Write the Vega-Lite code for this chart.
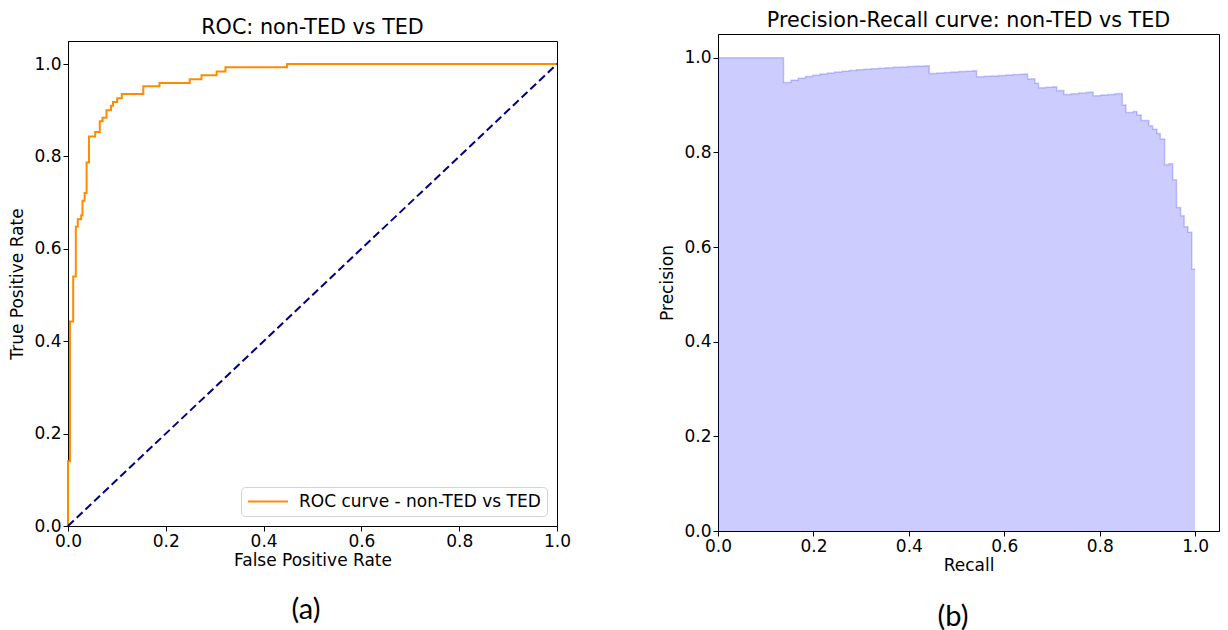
{
  "$schema": "https://vega.github.io/schema/vega-lite/v6.json",
  "background": "white",
  "padding": {"left": 8, "top": 9, "right": 4, "bottom": 0},
  "datasets": {
    "roc": [
      {"i": 0, "fpr": 0, "tpr": 0, "series": "ROC curve - non-TED vs TED"},
      {"i": 1, "fpr": 0, "tpr": 0.14, "series": "ROC curve - non-TED vs TED"},
      {"i": 2, "fpr": 0.004, "tpr": 0.14, "series": "ROC curve - non-TED vs TED"},
      {"i": 3, "fpr": 0.004, "tpr": 0.443, "series": "ROC curve - non-TED vs TED"},
      {"i": 4, "fpr": 0.0106, "tpr": 0.443, "series": "ROC curve - non-TED vs TED"},
      {"i": 5, "fpr": 0.0106, "tpr": 0.54, "series": "ROC curve - non-TED vs TED"},
      {"i": 6, "fpr": 0.016, "tpr": 0.54, "series": "ROC curve - non-TED vs TED"},
      {"i": 7, "fpr": 0.016, "tpr": 0.648, "series": "ROC curve - non-TED vs TED"},
      {"i": 8, "fpr": 0.02, "tpr": 0.648, "series": "ROC curve - non-TED vs TED"},
      {"i": 9, "fpr": 0.02, "tpr": 0.664, "series": "ROC curve - non-TED vs TED"},
      {"i": 10, "fpr": 0.027, "tpr": 0.664, "series": "ROC curve - non-TED vs TED"},
      {"i": 11, "fpr": 0.027, "tpr": 0.673, "series": "ROC curve - non-TED vs TED"},
      {"i": 12, "fpr": 0.0297, "tpr": 0.673, "series": "ROC curve - non-TED vs TED"},
      {"i": 13, "fpr": 0.0297, "tpr": 0.704, "series": "ROC curve - non-TED vs TED"},
      {"i": 14, "fpr": 0.034, "tpr": 0.704, "series": "ROC curve - non-TED vs TED"},
      {"i": 15, "fpr": 0.034, "tpr": 0.721, "series": "ROC curve - non-TED vs TED"},
      {"i": 16, "fpr": 0.038, "tpr": 0.721, "series": "ROC curve - non-TED vs TED"},
      {"i": 17, "fpr": 0.038, "tpr": 0.787, "series": "ROC curve - non-TED vs TED"},
      {"i": 18, "fpr": 0.043, "tpr": 0.787, "series": "ROC curve - non-TED vs TED"},
      {"i": 19, "fpr": 0.043, "tpr": 0.843, "series": "ROC curve - non-TED vs TED"},
      {"i": 20, "fpr": 0.0556, "tpr": 0.843, "series": "ROC curve - non-TED vs TED"},
      {"i": 21, "fpr": 0.0556, "tpr": 0.853, "series": "ROC curve - non-TED vs TED"},
      {"i": 22, "fpr": 0.065, "tpr": 0.853, "series": "ROC curve - non-TED vs TED"},
      {"i": 23, "fpr": 0.065, "tpr": 0.876, "series": "ROC curve - non-TED vs TED"},
      {"i": 24, "fpr": 0.0706, "tpr": 0.876, "series": "ROC curve - non-TED vs TED"},
      {"i": 25, "fpr": 0.0706, "tpr": 0.884, "series": "ROC curve - non-TED vs TED"},
      {"i": 26, "fpr": 0.0787, "tpr": 0.884, "series": "ROC curve - non-TED vs TED"},
      {"i": 27, "fpr": 0.0787, "tpr": 0.9, "series": "ROC curve - non-TED vs TED"},
      {"i": 28, "fpr": 0.088, "tpr": 0.9, "series": "ROC curve - non-TED vs TED"},
      {"i": 29, "fpr": 0.088, "tpr": 0.91, "series": "ROC curve - non-TED vs TED"},
      {"i": 30, "fpr": 0.092, "tpr": 0.91, "series": "ROC curve - non-TED vs TED"},
      {"i": 31, "fpr": 0.092, "tpr": 0.918, "series": "ROC curve - non-TED vs TED"},
      {"i": 32, "fpr": 0.1006, "tpr": 0.918, "series": "ROC curve - non-TED vs TED"},
      {"i": 33, "fpr": 0.1006, "tpr": 0.926, "series": "ROC curve - non-TED vs TED"},
      {"i": 34, "fpr": 0.11, "tpr": 0.926, "series": "ROC curve - non-TED vs TED"},
      {"i": 35, "fpr": 0.11, "tpr": 0.935, "series": "ROC curve - non-TED vs TED"},
      {"i": 36, "fpr": 0.154, "tpr": 0.935, "series": "ROC curve - non-TED vs TED"},
      {"i": 37, "fpr": 0.154, "tpr": 0.952, "series": "ROC curve - non-TED vs TED"},
      {"i": 38, "fpr": 0.187, "tpr": 0.952, "series": "ROC curve - non-TED vs TED"},
      {"i": 39, "fpr": 0.187, "tpr": 0.959, "series": "ROC curve - non-TED vs TED"},
      {"i": 40, "fpr": 0.249, "tpr": 0.959, "series": "ROC curve - non-TED vs TED"},
      {"i": 41, "fpr": 0.249, "tpr": 0.967, "series": "ROC curve - non-TED vs TED"},
      {"i": 42, "fpr": 0.273, "tpr": 0.967, "series": "ROC curve - non-TED vs TED"},
      {"i": 43, "fpr": 0.273, "tpr": 0.976, "series": "ROC curve - non-TED vs TED"},
      {"i": 44, "fpr": 0.304, "tpr": 0.976, "series": "ROC curve - non-TED vs TED"},
      {"i": 45, "fpr": 0.304, "tpr": 0.984, "series": "ROC curve - non-TED vs TED"},
      {"i": 46, "fpr": 0.322, "tpr": 0.984, "series": "ROC curve - non-TED vs TED"},
      {"i": 47, "fpr": 0.322, "tpr": 0.993, "series": "ROC curve - non-TED vs TED"},
      {"i": 48, "fpr": 0.448, "tpr": 0.993, "series": "ROC curve - non-TED vs TED"},
      {"i": 49, "fpr": 0.448, "tpr": 1.0, "series": "ROC curve - non-TED vs TED"},
      {"i": 50, "fpr": 1.0, "tpr": 1.0, "series": "ROC curve - non-TED vs TED"}
    ],
    "diag": [
      {"fpr": 0, "tpr": 0},
      {"fpr": 1, "tpr": 1}
    ],
    "pr": [
      {"recall": 0, "precision": 1.0},
      {"recall": 0.1374, "precision": 0.9474},
      {"recall": 0.1527, "precision": 0.9524},
      {"recall": 0.1679, "precision": 0.9565},
      {"recall": 0.1832, "precision": 0.96},
      {"recall": 0.1985, "precision": 0.963},
      {"recall": 0.2137, "precision": 0.9655},
      {"recall": 0.229, "precision": 0.9677},
      {"recall": 0.2443, "precision": 0.9697},
      {"recall": 0.2595, "precision": 0.9714},
      {"recall": 0.2748, "precision": 0.973},
      {"recall": 0.2901, "precision": 0.9744},
      {"recall": 0.3053, "precision": 0.9756},
      {"recall": 0.3206, "precision": 0.9767},
      {"recall": 0.3359, "precision": 0.9778},
      {"recall": 0.3511, "precision": 0.9787},
      {"recall": 0.3664, "precision": 0.9796},
      {"recall": 0.3817, "precision": 0.9804},
      {"recall": 0.3969, "precision": 0.9811},
      {"recall": 0.4122, "precision": 0.9818},
      {"recall": 0.4275, "precision": 0.9825},
      {"recall": 0.4351, "precision": 0.9828},
      {"recall": 0.4427, "precision": 0.9667},
      {"recall": 0.458, "precision": 0.9677},
      {"recall": 0.4733, "precision": 0.9688},
      {"recall": 0.4885, "precision": 0.9697},
      {"recall": 0.5038, "precision": 0.9706},
      {"recall": 0.5191, "precision": 0.9714},
      {"recall": 0.5344, "precision": 0.9722},
      {"recall": 0.542, "precision": 0.9595},
      {"recall": 0.5573, "precision": 0.9605},
      {"recall": 0.5725, "precision": 0.9615},
      {"recall": 0.5878, "precision": 0.9625},
      {"recall": 0.6031, "precision": 0.9634},
      {"recall": 0.6183, "precision": 0.9643},
      {"recall": 0.6336, "precision": 0.9651},
      {"recall": 0.6412, "precision": 0.9655},
      {"recall": 0.6489, "precision": 0.9551},
      {"recall": 0.6565, "precision": 0.9556},
      {"recall": 0.6641, "precision": 0.9457},
      {"recall": 0.6718, "precision": 0.9362},
      {"recall": 0.687, "precision": 0.9375},
      {"recall": 0.7023, "precision": 0.9388},
      {"recall": 0.7099, "precision": 0.93},
      {"recall": 0.7176, "precision": 0.9307},
      {"recall": 0.7252, "precision": 0.9223},
      {"recall": 0.7405, "precision": 0.9238},
      {"recall": 0.7557, "precision": 0.9252},
      {"recall": 0.771, "precision": 0.9266},
      {"recall": 0.7786, "precision": 0.9273},
      {"recall": 0.7863, "precision": 0.9196},
      {"recall": 0.8015, "precision": 0.9211},
      {"recall": 0.8168, "precision": 0.9224},
      {"recall": 0.8321, "precision": 0.9237},
      {"recall": 0.8397, "precision": 0.9244},
      {"recall": 0.8473, "precision": 0.9002},
      {"recall": 0.855, "precision": 0.884},
      {"recall": 0.8702, "precision": 0.8865},
      {"recall": 0.878, "precision": 0.879},
      {"recall": 0.887, "precision": 0.867},
      {"recall": 0.903, "precision": 0.856},
      {"recall": 0.911, "precision": 0.849},
      {"recall": 0.92, "precision": 0.84},
      {"recall": 0.927, "precision": 0.828},
      {"recall": 0.936, "precision": 0.774},
      {"recall": 0.945, "precision": 0.776},
      {"recall": 0.953, "precision": 0.742},
      {"recall": 0.961, "precision": 0.6835},
      {"recall": 0.9696, "precision": 0.666},
      {"recall": 0.977, "precision": 0.643},
      {"recall": 0.985, "precision": 0.631},
      {"recall": 0.993, "precision": 0.553},
      {"recall": 1.0, "precision": 0.553}
    ]
  },
  "hconcat": [
    {
      "vconcat": [
        {
          "title": "ROC: non-TED vs TED",
          "width": 489,
          "height": 485,
          "layer": [
            {
              "data": {"name": "roc"},
              "mark": {"type": "line", "strokeWidth": 2},
              "encoding": {
                "x": {"field": "fpr", "type": "quantitative", "scale": {"domain": [0, 1], "nice": false}, "title": "False Positive Rate",
                      "axis": {"values": [0, 0.2, 0.4, 0.6, 0.8, 1.0], "format": ".1f"}},
                "y": {"field": "tpr", "type": "quantitative", "scale": {"domain": [0, 1.05], "nice": false}, "title": "True Positive Rate",
                      "axis": {"values": [0, 0.2, 0.4, 0.6, 0.8, 1.0], "format": ".1f"}},
                "order": {"field": "i", "type": "quantitative"},
                "color": {"field": "series", "type": "nominal", "scale": {"range": ["#ff8c00"]},
                          "legend": {"title": null, "orient": "bottom-right", "offset": 10, "symbolType": "stroke", "symbolSize": 1600,
                                     "symbolStrokeWidth": 2, "labelFontSize": 17, "labelFont": "DejaVu Sans", "labelColor": "black",
                                     "labelLimit": 400, "labelOffset": 10, "clipHeight": 17,
                                     "fillColor": "rgba(255,255,255,0.8)", "strokeColor": "#d4d4d4", "cornerRadius": 4, "padding": 6}}
              }
            },
            {
              "data": {"name": "diag"},
              "mark": {"type": "line", "color": "#000080", "strokeWidth": 2, "strokeDash": [8, 4]},
              "encoding": {
                "x": {"field": "fpr", "type": "quantitative"},
                "y": {"field": "tpr", "type": "quantitative"}
              }
            }
          ]
        },
        {
          "data": {"values": [{"label": "(a)"}]},
          "width": 500,
          "height": 30,
          "view": {"stroke": null},
          "mark": {"type": "text", "font": "Lato", "fontSize": 29, "dx": -12, "baseline": "middle", "color": "black"},
          "encoding": {"text": {"field": "label", "type": "nominal"}}
        }
      ],
      "spacing": 26,
      "resolve": {"scale": {"color": "independent"}, "legend": {"color": "independent"}}
    },
    {
      "vconcat": [
        {
          "title": "Precision-Recall curve: non-TED vs TED",
          "width": 501,
          "height": 497,
          "data": {"name": "pr"},
          "encoding": {
            "x": {"field": "recall", "type": "quantitative", "scale": {"domain": [0, 1.05], "nice": false}, "title": "Recall",
                  "axis": {"values": [0, 0.2, 0.4, 0.6, 0.8, 1.0], "format": ".1f"}},
            "y": {"field": "precision", "type": "quantitative", "scale": {"domain": [0, 1.05], "nice": false}, "title": "Precision",
                  "axis": {"values": [0, 0.2, 0.4, 0.6, 0.8, 1.0], "format": ".1f"}}
          },
          "layer": [
            {"mark": {"type": "area", "interpolate": "step-after", "color": "#0000ff", "opacity": 0.2}},
            {"mark": {"type": "line", "interpolate": "step-after", "color": "#0000ff", "opacity": 0.2, "strokeWidth": 1.5}}
          ]
        },
        {
          "data": {"values": [{"label": "(b)"}]},
          "width": 500,
          "height": 30,
          "view": {"stroke": null},
          "mark": {"type": "text", "font": "Lato", "fontSize": 29, "dx": -15, "dy": 2, "baseline": "middle", "color": "black"},
          "encoding": {"text": {"field": "label", "type": "nominal"}}
        }
      ],
      "spacing": 26
    }
  ],
  "spacing": 86,
  "center": true,
  "resolve": {"scale": {"color": "independent"}, "legend": {"color": "independent"}},
  "config": {
    "font": "DejaVu Sans",
    "view": {"stroke": "black", "strokeWidth": 1},
    "title": {"font": "DejaVu Sans", "fontSize": 20.7, "fontWeight": "normal", "color": "black", "offset": 2, "anchor": "middle"},
    "axis": {
      "grid": false,
      "labelFont": "DejaVu Sans", "labelFontSize": 17, "labelColor": "black",
      "titleFont": "DejaVu Sans", "titleFontSize": 17, "titleFontWeight": "normal", "titleColor": "black",
      "tickColor": "black", "tickSize": 5, "domainColor": "black", "labelPadding": 2,
      "labelFlush": false, "labelOverlap": false
    },
    "axisX": {"titlePadding": 3},
    "axisY": {"titlePadding": 7}
  }
}
